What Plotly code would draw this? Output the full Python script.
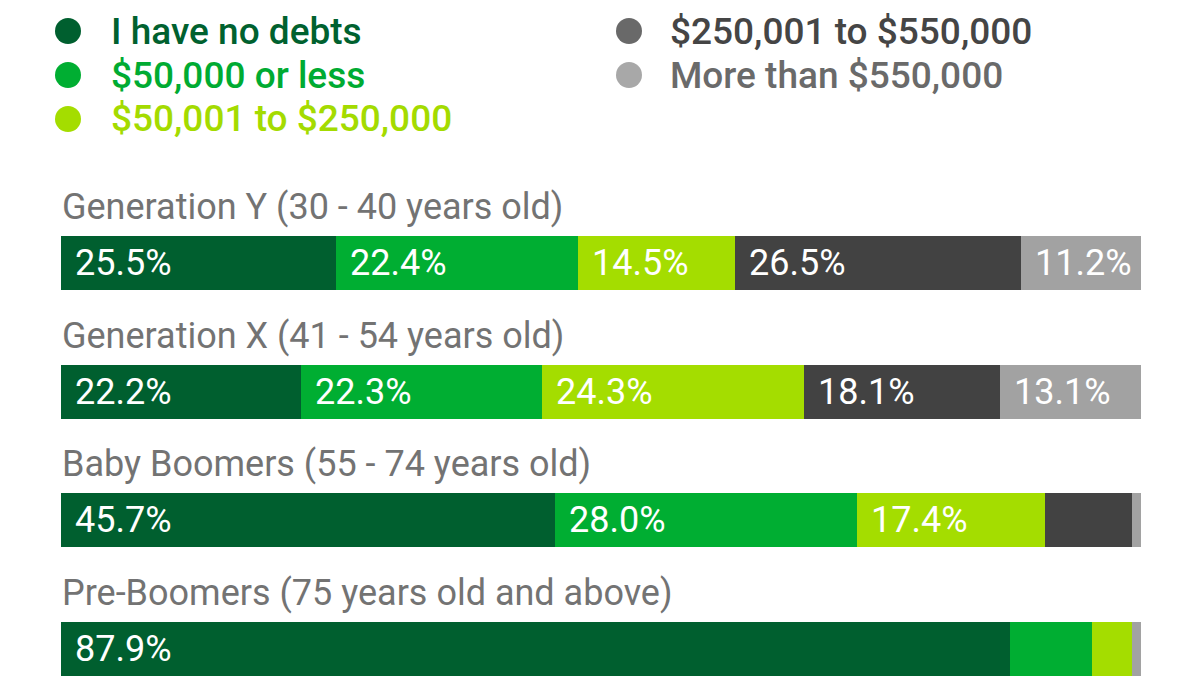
import plotly.graph_objects as go

# --- data -------------------------------------------------------------
groups = [
    "Generation Y (30 - 40 years old)",
    "Generation X (41 - 54 years old)",
    "Baby Boomers (55 - 74 years old)",
    "Pre-Boomers (75 years old and above)",
]
debt_levels = [
    "I have no debts",
    "$50,000 or less",
    "$50,001 to $250,000",
    "$250,001 to $550,000",
    "More than $550,000",
]
no_debts = [25.5, 22.2, 45.7, 87.9]
upto_50k = [22.4, 22.3, 28.0, 7.6]
from_50k_to_250k = [14.5, 24.3, 17.4, 3.7]
from_250k_to_550k = [26.5, 18.1, 8.1, 0.0]
over_550k = [11.2, 13.1, 0.8, 0.8]

series = [no_debts, upto_50k, from_50k_to_250k, from_250k_to_550k, over_550k]

# --- styling ----------------------------------------------------------
bar_colors = ["#005F2F", "#00AE32", "#A4DD00", "#424242", "#A2A2A2"]
legend_text_colors = ["#00612F", "#00AB32", "#A4DB00", "#454545", "#6A6A6A"]
legend_dot_colors = ["#005F2F", "#00AE32", "#A4DD00", "#696969", "#A8A8A8"]
FONT = "Roboto, Arial, sans-serif"
W, H = 1198, 678
ML, MR = 61, 57
LABEL_MIN = 10  # only segments this wide get a value label

fig = go.Figure()
for name, vals, col in zip(debt_levels, series, bar_colors):
    fig.add_trace(go.Bar(
        y=groups, x=vals, name=name, orientation="h",
        marker=dict(color=col, line=dict(width=0)),
        hoverinfo="x+name", showlegend=False,
    ))

annotations = []
# value labels inside the segments, left aligned
for gi, g in enumerate(groups):
    base = 0.0
    for vals in series:
        v = vals[gi]
        if v >= LABEL_MIN:
            annotations.append(dict(
                x=base, y=g, xref="x", yref="y", text=f"{v:.1f}%",
                xanchor="left", yanchor="middle", xshift=12, yshift=0,
                showarrow=False,
                font=dict(family=FONT, size=36, color="white"),
            ))
        base += v
    # group heading above each bar
    annotations.append(dict(
        x=0, y=g, xref="paper", yref="y", text=g,
        xanchor="left", yanchor="middle", xshift=-1, yshift=56,
        showarrow=False,
        font=dict(family=FONT, size=36, color="#737373", weight=400),
    ))


def px_x(px):
    return (px - ML) / (W - ML - MR)


def px_y(py):
    return 1 - py / H


# two-column legend with coloured dots and coloured text
legend_cols = [(68, 109), (629, 668)]
legend_rows = [31, 75, 119]
shapes = []
for i, (name, tcol, dcol) in enumerate(zip(debt_levels, legend_text_colors, legend_dot_colors)):
    col = 0 if i < 3 else 1
    row = i if i < 3 else i - 3
    dot_x, text_x = legend_cols[col]
    y = legend_rows[row]
    shapes.append(dict(
        type="circle", xref="paper", yref="paper",
        xsizemode="pixel", ysizemode="pixel",
        xanchor=px_x(dot_x), yanchor=px_y(y),
        x0=-13, x1=13, y0=-13, y1=13,
        fillcolor=dcol, line=dict(width=0),
    ))
    annotations.append(dict(
        x=px_x(text_x), y=px_y(y), xref="paper", yref="paper", text=name,
        xanchor="left", yanchor="middle", showarrow=False,
        font=dict(family=FONT, size=37, color=tcol, weight=500),
    ))

unit = 128.67
top_center, bottom_center = 263, 649
fig.update_layout(
    width=W, height=H,
    margin=dict(l=ML, r=MR, t=0, b=0),
    barmode="stack", bargap=1 - 54 / unit,
    plot_bgcolor="white", paper_bgcolor="white",
    showlegend=False,
    xaxis=dict(range=[0, 100], visible=False, fixedrange=True),
    yaxis=dict(
        type="category", categoryorder="array", categoryarray=groups,
        range=[3 + (H - bottom_center) / unit, -top_center / unit],
        visible=False, fixedrange=True,
    ),
    annotations=annotations, shapes=shapes,
)

fig.write_html("out.html")
